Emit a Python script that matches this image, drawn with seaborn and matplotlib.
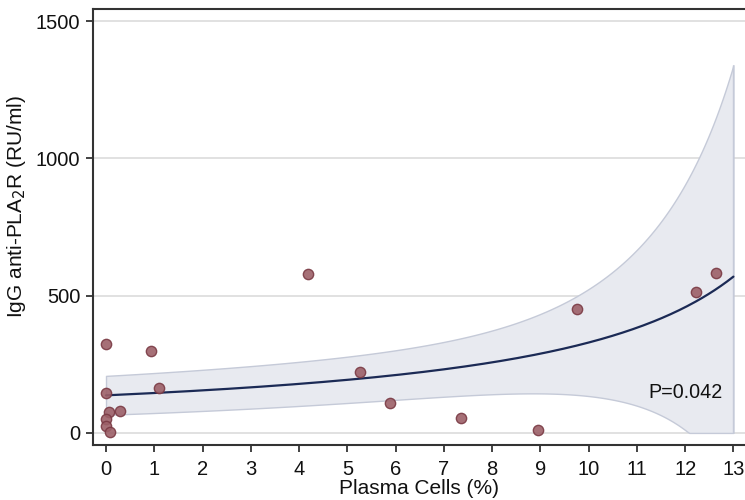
import numpy as np
import matplotlib
matplotlib.use("Agg")
import matplotlib.pyplot as plt
import seaborn as sns
import pandas as pd

plasma_cells = [0.0, 0.93, 0.0, 1.09, 0.07, 0.30, 0.0, 0.0, 0.09, 4.18, 5.26, 5.89, 7.36, 8.95, 9.76, 12.23, 12.63]
igg_pla2r = [324, 297, 144, 163, 77, 79, 50, 25, 3, 577, 223, 109, 56, 10, 452, 514, 584]
x_ticks = list(range(0, 14))
y_ticks = [0, 500, 1000, 1500]
p_text = "P=0.042"

df = pd.DataFrame({"x": plasma_cells, "y": igg_pla2r})

# Gamma GLM with inverse link, fitted by IRLS
X = np.column_stack([np.ones(len(df)), df["x"].values])
y = df["y"].values.astype(float)
b = np.array([1.0 / y.mean(), 0.0])
for _ in range(100):
    eta = X @ b
    mu = 1.0 / eta
    W = mu ** 2
    z = eta - (y - mu) / mu ** 2
    XtW = X.T * W
    b_new = np.linalg.solve(XtW @ X, XtW @ z)
    if np.max(np.abs(b_new - b)) < 1e-14:
        b = b_new
        break
    b = b_new
eta = X @ b
mu = 1.0 / eta
phi = np.sum(((y - mu) / mu) ** 2) / (len(y) - 2)
cov = phi * np.linalg.inv((X.T * mu ** 2) @ X)

xg = np.linspace(0, 13, 300)
Xg = np.column_stack([np.ones_like(xg), xg])
eg = Xg @ b
mg = 1.0 / eg
se_eta = np.sqrt(np.einsum("ij,jk,ik->i", Xg, cov, Xg))
se_mu = mg ** 2 * se_eta
lo = np.clip(mg - 1.96 * se_mu, 0, None)
hi = mg + 1.96 * se_mu
fit_df = pd.DataFrame({"x": xg, "y": mg})

sns.set_style("white")
plt.rcParams["font.family"] = ["Liberation Sans", "DejaVu Sans"]
fig = plt.figure(figsize=(7.45, 5.0), dpi=100)
ax = fig.add_axes([0.1248, 0.11, 0.8752, 0.872])

for t in y_ticks:
    ax.axhline(t, color="#dcdcdc", lw=1.2, zorder=0)

ax.fill_between(xg, lo, hi, facecolor="#e8eaf0", edgecolor="#c5cad8", lw=1.0, zorder=1)
ax.vlines(13, lo[-1], hi[-1], color="#c5cad8", lw=1.0, zorder=1)
sns.lineplot(data=fit_df, x="x", y="y", color="#1b2a55", lw=1.6, ax=ax, zorder=3)
sns.scatterplot(data=df, x="x", y="y", s=55, color="#9c6068", edgecolor="#7a3a44",
                linewidth=1.0, alpha=0.9, ax=ax, zorder=4)

ax.text(12.0, 146, p_text, ha="center", va="center", fontsize=14.2, color="#111111")

ax.set_xlim(-0.27, 13.24)
ax.set_ylim(-44, 1544)
ax.set_xticks(x_ticks)
ax.set_yticks(y_ticks)
ax.set_xlabel("Plasma Cells (%)", fontsize=15, labelpad=0, color="#111111")
ax.set_ylabel("IgG anti-PLA$_2$R (RU/ml)", fontsize=15, color="#111111")
ax.yaxis.set_label_coords(-0.099, 0.548)
ax.tick_params(axis="both", direction="out", length=5, width=1.2, colors="#222222",
               labelcolor="#111111", labelsize=14.5, bottom=True, left=True, pad=4)
ax.tick_params(axis="x", pad=6)
for side in ["left", "bottom", "top"]:
    ax.spines[side].set_color("#333333")
    ax.spines[side].set_linewidth(1.5)
ax.spines["right"].set_visible(False)

fig.savefig("out.png", dpi=100)
